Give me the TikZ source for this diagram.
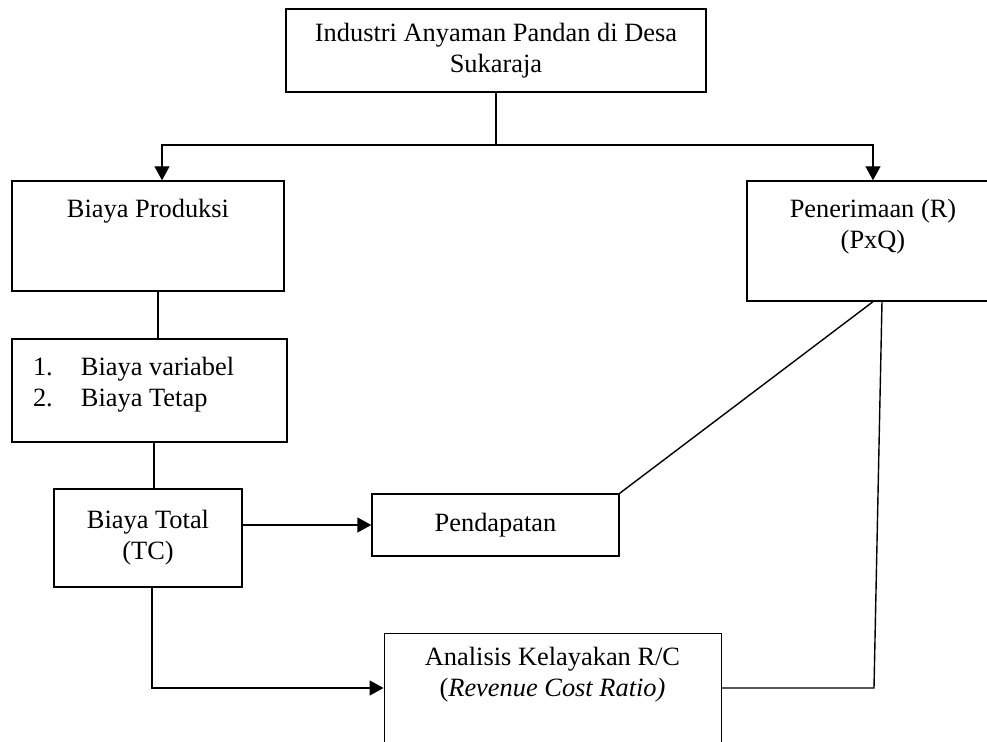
\documentclass[tikz,border=0pt]{standalone}
\usepackage{fontspec}
\setmainfont{Liberation Serif}
\usetikzlibrary{positioning,arrows.meta}

\begin{document}
\begin{tikzpicture}[x=0.5pt,y=-0.5pt,line width=0.7pt,
	box/.style={draw,rectangle,inner sep=0pt,align=center},
	txt/.style={inner sep=0pt,align=center},
	arr/.style={-{Triangle[width=7.5pt,length=7pt]}},
	font=\fontsize{13.2}{15.5}\selectfont]
%		\draw[lightgray] (0,0) grid[step=50] (987,742);
		\useasboundingbox (0,0) rectangle (987,742);
		\node[box,minimum width=210pt,minimum height=41.5pt] (ind) at (496,50.5) {Industri Anyaman Pandan di Desa\\Sukaraja};
		\node[box,minimum width=136pt,minimum height=55pt] (prod) at (148,236) {};
		\node[txt,below=9pt of prod.north] (prod-t) {Biaya Produksi};
		\node[box,minimum width=126pt,minimum height=60pt] (pen) at (873,241) {};
		\node[txt,below=9pt of pen.north] (pen-t) {Penerimaan (R)\\(PxQ)};
		\node[box,minimum width=137.5pt,minimum height=51.5pt] (list) at (149.5,390.5) {};
		\node[txt,align=left,anchor=north west] (list-t) at ([xshift=10.5pt,yshift=-9pt]list.north west)
			{\makebox[24pt][l]{1.}Biaya variabel\\\makebox[24pt][l]{2.}Biaya Tetap};
		\node[box,minimum width=94pt,minimum height=49pt] (tot) at (148,538) {Biaya Total\\(TC)};
		\node[box,minimum width=123.5pt,minimum height=31pt] (pend) at (495.5,525) {Pendapatan};
		\node[box,line width=0.45pt,minimum width=168.5pt,minimum height=55pt] (rc) at (552.5,688) {};
		\node[txt,below=7pt of rc.north] (rc-t) {Analisis Kelayakan R/C\\(\textit{Revenue Cost Ratio)}};
		% connectors
		\coordinate (split) at (496,145);
		\coordinate (rc-turn) at (874,688);
		\draw (ind.south) -- (split);
		\draw[arr] (split) -| ([xshift=7pt]prod.north);
		\draw[arr] (split) -| (pen.north);
		\draw ([xshift=5pt]prod.south) -- ([xshift=5pt]prod.south |- list.north);
		\draw ([xshift=3pt]list.south -| tot.north) -- ([xshift=3pt]tot.north);
		\draw[arr] (tot.east |- pend.west) -- (pend.west);
		\draw (pend.north east) -- (pen.south);
		\draw ([xshift=4.5pt]pen.south) -- (rc-turn) -- (rc.east);
		\draw[arr] ([xshift=2pt]tot.south) |- (rc.west);
	\end{tikzpicture}
\end{document}
